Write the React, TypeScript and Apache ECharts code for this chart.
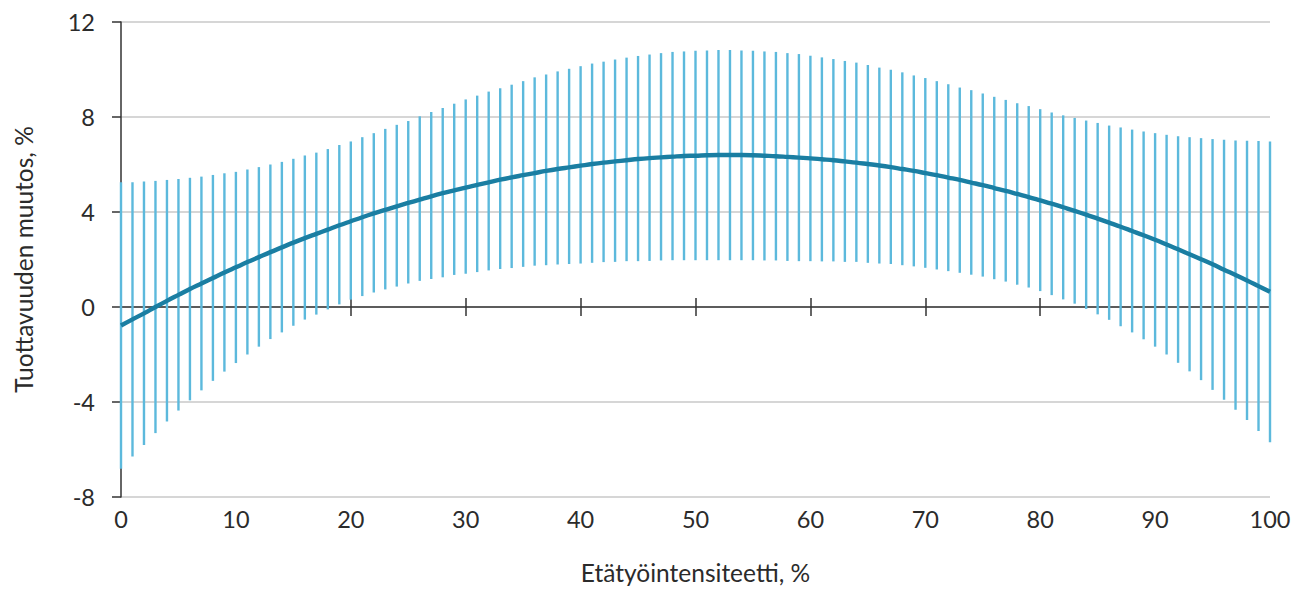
import React, { useEffect, useRef } from "react";
import * as echarts from "echarts";

const xValues: number[] = Array.from({ length: 101 }, (_, i) => i);

const upper: number[] = [
  5.25, 5.25, 5.28, 5.31, 5.35, 5.39, 5.44, 5.49, 5.56, 5.63,
  5.69, 5.79, 5.89, 6.0, 6.11, 6.24, 6.38, 6.5, 6.65, 6.82,
  6.97, 7.15, 7.32, 7.5, 7.67, 7.83, 8.03, 8.21, 8.38, 8.56,
  8.74, 8.9, 9.07, 9.21, 9.36, 9.51, 9.67, 9.79, 9.92, 10.03,
  10.14, 10.25, 10.33, 10.42, 10.5, 10.57, 10.63, 10.69, 10.74, 10.76,
  10.79, 10.8, 10.82, 10.82, 10.8, 10.79, 10.76, 10.74, 10.69, 10.65,
  10.58, 10.51, 10.44, 10.36, 10.29, 10.19, 10.08, 9.99, 9.88, 9.75,
  9.64, 9.51, 9.38, 9.24, 9.13, 8.99, 8.85, 8.72, 8.58, 8.46,
  8.33, 8.19, 8.07, 7.96, 7.85, 7.75, 7.64, 7.56, 7.47, 7.39,
  7.32, 7.25, 7.19, 7.15, 7.11, 7.07, 7.04, 7.01, 7.0, 6.99,
  6.97,
];

const lower: number[] = [
  -6.81, -6.29, -5.81, -5.31, -4.82, -4.36, -3.93, -3.51, -3.11, -2.72,
  -2.36, -2.0, -1.67, -1.35, -1.07, -0.79, -0.53, -0.32, -0.1, 0.11,
  0.31, 0.46, 0.61, 0.74, 0.86, 0.99, 1.1, 1.18, 1.25, 1.35,
  1.4, 1.47, 1.54, 1.6, 1.64, 1.69, 1.74, 1.76, 1.79, 1.81,
  1.83, 1.86, 1.89, 1.9, 1.93, 1.93, 1.94, 1.96, 1.97, 1.97,
  1.97, 1.97, 1.97, 1.97, 1.97, 1.97, 1.96, 1.96, 1.94, 1.93,
  1.93, 1.92, 1.92, 1.9, 1.9, 1.86, 1.83, 1.81, 1.76, 1.71,
  1.65, 1.58, 1.51, 1.44, 1.36, 1.28, 1.17, 1.07, 0.94, 0.82,
  0.67, 0.5, 0.32, 0.14, -0.08, -0.31, -0.54, -0.81, -1.07, -1.36,
  -1.67, -2.0, -2.35, -2.71, -3.08, -3.49, -3.9, -4.33, -4.76, -5.22,
  -5.69,
];

const center: number[] = [
  -0.78, -0.52, -0.27, 0.0, 0.26, 0.51, 0.76, 0.99, 1.22, 1.45,
  1.67, 1.89, 2.1, 2.31, 2.51, 2.71, 2.9, 3.08, 3.26, 3.44,
  3.61, 3.78, 3.94, 4.09, 4.24, 4.38, 4.52, 4.66, 4.79, 4.91,
  5.03, 5.14, 5.25, 5.36, 5.46, 5.55, 5.64, 5.73, 5.81, 5.88,
  5.95, 6.02, 6.08, 6.13, 6.18, 6.23, 6.27, 6.3, 6.33, 6.36,
  6.37, 6.39, 6.4, 6.4, 6.4, 6.39, 6.37, 6.35, 6.32, 6.29,
  6.26, 6.22, 6.18, 6.13, 6.08, 6.02, 5.96, 5.89, 5.81, 5.73,
  5.64, 5.55, 5.45, 5.35, 5.24, 5.13, 5.01, 4.89, 4.76, 4.63,
  4.49, 4.35, 4.2, 4.05, 3.89, 3.72, 3.55, 3.38, 3.2, 3.02,
  2.83, 2.63, 2.43, 2.22, 2.01, 1.8, 1.57, 1.35, 1.12, 0.88,
  0.64,
];

const xAxisTitle = "Etätyöintensiteetti, %";
const yAxisTitle = "Tuottavuuden muutos, %";

const FONT = "Lato";
const TEXT_COLOR = "#2b2b2b";
const AXIS_COLOR = "#333333";

export default function App() {
  const ref = useRef<HTMLDivElement>(null);

  useEffect(() => {
    if (!ref.current) return;
    const chart = echarts.init(ref.current, undefined, { renderer: "svg" });

    const barData = xValues.map((x, i) => [x, lower[i], upper[i]]);
    const lineData = xValues.map((x, i) => [x, center[i]]);

    const baseX = {
      type: "value" as const,
      min: 0,
      max: 100,
      interval: 10,
      splitLine: { show: false },
    };

    chart.setOption({
      animation: false,
      backgroundColor: "#ffffff",
      textStyle: { fontFamily: FONT },
      grid: { left: 121, right: 32, top: 22, bottom: 88, containLabel: false },
      xAxis: [
        {
          ...baseX,
          position: "bottom",
          axisLine: { show: false, onZero: false },
          axisTick: { show: false },
          axisLabel: {
            show: true,
            color: TEXT_COLOR,
            fontSize: 23.5,
            fontFamily: FONT,
            margin: 10,
          },
          name: xAxisTitle,
          nameLocation: "middle",
          nameGap: 63,
          nameTextStyle: { color: TEXT_COLOR, fontSize: 24.5, fontFamily: FONT },
        },
        {
          ...baseX,
          axisLine: {
            show: true,
            onZero: true,
            onZeroAxisIndex: 0,
            lineStyle: { color: AXIS_COLOR, width: 1.5 },
          },
          axisTick: {
            show: true,
            inside: true,
            length: 9,
            lineStyle: { color: AXIS_COLOR, width: 1.5 },
          },
          axisLabel: { show: false },
        },
        {
          ...baseX,
          axisLine: {
            show: false,
            onZero: true,
            onZeroAxisIndex: 0,
          },
          axisTick: {
            show: true,
            inside: false,
            length: 9,
            lineStyle: { color: AXIS_COLOR, width: 1.5 },
          },
          axisLabel: { show: false },
        },
      ],
      yAxis: {
        type: "value",
        min: -8,
        max: 12,
        interval: 4,
        axisLine: {
          show: true,
          onZero: false,
          lineStyle: { color: AXIS_COLOR, width: 1.5 },
        },
        axisTick: {
          show: true,
          inside: false,
          length: 9,
          lineStyle: { color: AXIS_COLOR, width: 1.5 },
        },
        axisLabel: {
          color: TEXT_COLOR,
          fontSize: 23.5,
          fontFamily: FONT,
          margin: 26,
        },
        splitLine: { show: true, lineStyle: { color: "#c9c9c9", width: 1.5 } },
        name: yAxisTitle,
        nameLocation: "middle",
        nameGap: 85,
        nameTextStyle: { color: TEXT_COLOR, fontSize: 24.5, fontFamily: FONT },
      },
      series: [
        {
          type: "custom",
          xAxisIndex: 0,
          yAxisIndex: 0,
          data: barData,
          encode: { x: 0, y: [1, 2] },
          z: 3,
          renderItem: (params: any, api: any) => {
            const x = api.value(0);
            const lo = api.coord([x, api.value(1)]);
            const hi = api.coord([x, api.value(2)]);
            return {
              type: "line",
              shape: { x1: lo[0], y1: lo[1], x2: hi[0], y2: hi[1] },
              style: { stroke: "#5cb9dc", lineWidth: 2.4 },
            };
          },
        },
        {
          type: "line",
          xAxisIndex: 0,
          yAxisIndex: 0,
          data: lineData,
          showSymbol: false,
          symbol: "none",
          smooth: 0.4,
          z: 5,
          lineStyle: { color: "#1a7ea2", width: 4.4 },
        },
      ],
    });

    return () => {
      chart.dispose();
    };
  }, []);

  return (
    <div
      ref={ref}
      style={{ position: "fixed", left: 0, top: 0, width: 1302, height: 590, background: "#fff" }}
    />
  );
}
